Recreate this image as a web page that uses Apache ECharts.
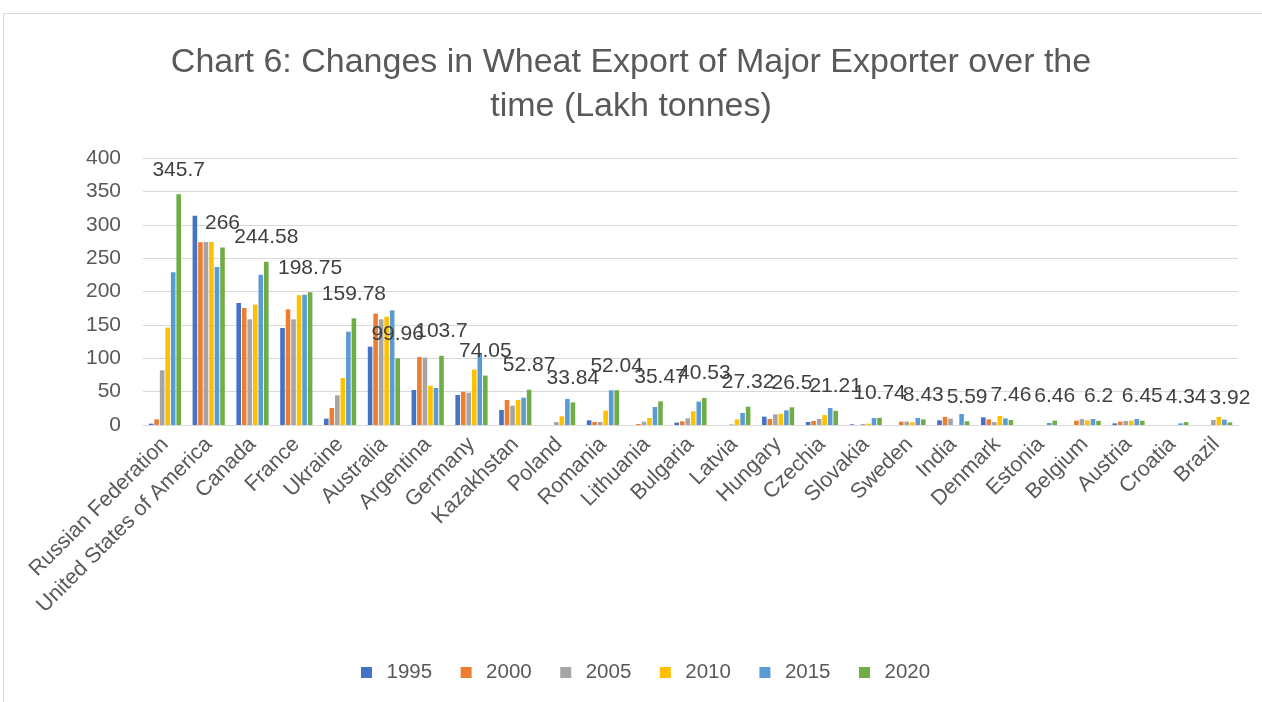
<!DOCTYPE html>
<html>
<head>
<meta charset="utf-8">
<script src="https://cdn.jsdelivr.net/npm/echarts@6/dist/echarts.min.js"></script>
<style>
  html, body { margin: 0; padding: 0; background: #fff; }
  #frame {
    position: absolute; left: 3px; top: 13px; width: 1259px; height: 689px;
    border-top: 1px solid #d9d9d9; border-left: 1px solid #d9d9d9;
  }
  #myChart { position: absolute; left: 0; top: 0; width: 1262px; height: 702px; }
</style>
</head>
<body>
<div id="frame"></div>
<div id="myChart"></div>
<script>
  // 数据
  var countries = ['Russian Federation', 'United States of America', 'Canada', 'France', 'Ukraine',
    'Australia', 'Argentina', 'Germany', 'Kazakhstan', 'Poland', 'Romania', 'Lithuania', 'Bulgaria',
    'Latvia', 'Hungary', 'Czechia', 'Slovakia', 'Sweden', 'India', 'Denmark', 'Estonia', 'Belgium',
    'Austria', 'Croatia', 'Brazil'];

  var years = ['1995', '2000', '2005', '2010', '2015', '2020'];

  var y1995 = [2, 313.6, 182.8, 145.3, 9.5, 117.3, 52.4, 45, 22.5, 0, 7, 0, 3.5, 0, 12.5, 4.5, 1, 0, 7, 11.5, 0, 0, 2.5, 0, 0];
  var y2000 = [8.5, 273.7, 175.3, 173.3, 25.5, 166.8, 101.9, 49.9, 37.5, 0, 4.5, 1.5, 5.5, 0, 9, 6, 0, 5, 12, 8.5, 0, 6.5, 5, 0, 0];
  var y2005 = [82, 274, 158.3, 158.3, 44.5, 158.3, 101, 48.4, 29, 4.5, 4.5, 5, 10, 1, 16, 9, 1.5, 5, 9.5, 4.5, 0, 9, 6, 0, 7.5];
  var y2010 = [146, 274, 180.3, 194.3, 70.4, 162.3, 58.9, 82.9, 37.5, 13, 21.5, 10.5, 20.5, 8.5, 17, 15, 2, 4, 0, 13.5, 0, 7, 6.5, 0, 12];
  var y2015 = [229, 236.7, 225, 195.2, 139.8, 171.8, 55.4, 107, 41, 39, 52, 27, 35, 18, 22, 25.5, 10.5, 10.5, 16.5, 10, 3, 9, 9, 2.5, 8];
  var y2020 = [345.7, 266, 244.58, 198.75, 159.78, 99.96, 103.7, 74.05, 52.87, 33.84, 52.04, 35.47, 40.53, 27.32, 26.5, 21.21, 10.74, 8.43, 5.59, 7.46, 6.46, 6.2, 6.45, 4.34, 3.92];

  var seriesData = [y1995, y2000, y2005, y2010, y2015, y2020];
  var colors = ['#4472c4', '#ed7d31', '#a5a5a5', '#ffc000', '#5b9bd5', '#70ad47'];
</script>
<script>
  var myChart = echarts.init(document.getElementById('myChart'));
  var series = [];
  for (var i = 0; i < years.length; i++) {
    series.push({
      name: years[i],
      type: 'bar',
      barWidth: 4.6,
      barGap: '20%',
      data: seriesData[i],
      itemStyle: { color: colors[i] },
      label: {
        show: i == 5,
        position: 'top',
        distance: 14,
        color: '#404040',
        fontSize: 21,
        fontFamily: 'Liberation Sans'
      }
    });
  }

  var option = {
    animation: false,
    color: colors,
    title: {
      text: 'Chart 6: Changes in Wheat Export of Major Exporter over the\ntime (Lakh tonnes)',
      left: 'center',
      top: 36,
      textStyle: {
        color: '#595959',
        fontWeight: 'normal',
        fontSize: 34,
        lineHeight: 44,
        fontFamily: 'Liberation Sans'
      }
    },
    grid: {
      left: 143,
      right: 24,
      top: 158,
      bottom: 277,
      containLabel: false
    },
    legend: {
      data: years,
      bottom: 14,
      left: 356,
      itemWidth: 11,
      itemHeight: 11,
      itemGap: 28.5,
      icon: 'rect',
      textStyle: { color: '#595959', fontSize: 20.5, padding: [0, 0, 0, 9.5], fontFamily: 'Liberation Sans' }
    },
    xAxis: {
      type: 'category',
      data: countries,
      axisLine: { lineStyle: { color: '#d9d9d9' } },
      axisTick: { show: false },
      axisLabel: {
        interval: 0,
        rotate: 45,
        color: '#595959',
        fontSize: 21.5,
        margin: 16,
        fontFamily: 'Liberation Sans'
      }
    },
    yAxis: {
      type: 'value',
      min: 0,
      max: 400,
      interval: 50,
      axisLine: { show: false },
      axisTick: { show: false },
      splitLine: { lineStyle: { color: '#d9d9d9' } },
      axisLabel: { color: '#595959', fontSize: 21, margin: 22, fontFamily: 'Liberation Sans' }
    },
    series: series
  };

  myChart.setOption(option);
</script>
</body>
</html>
